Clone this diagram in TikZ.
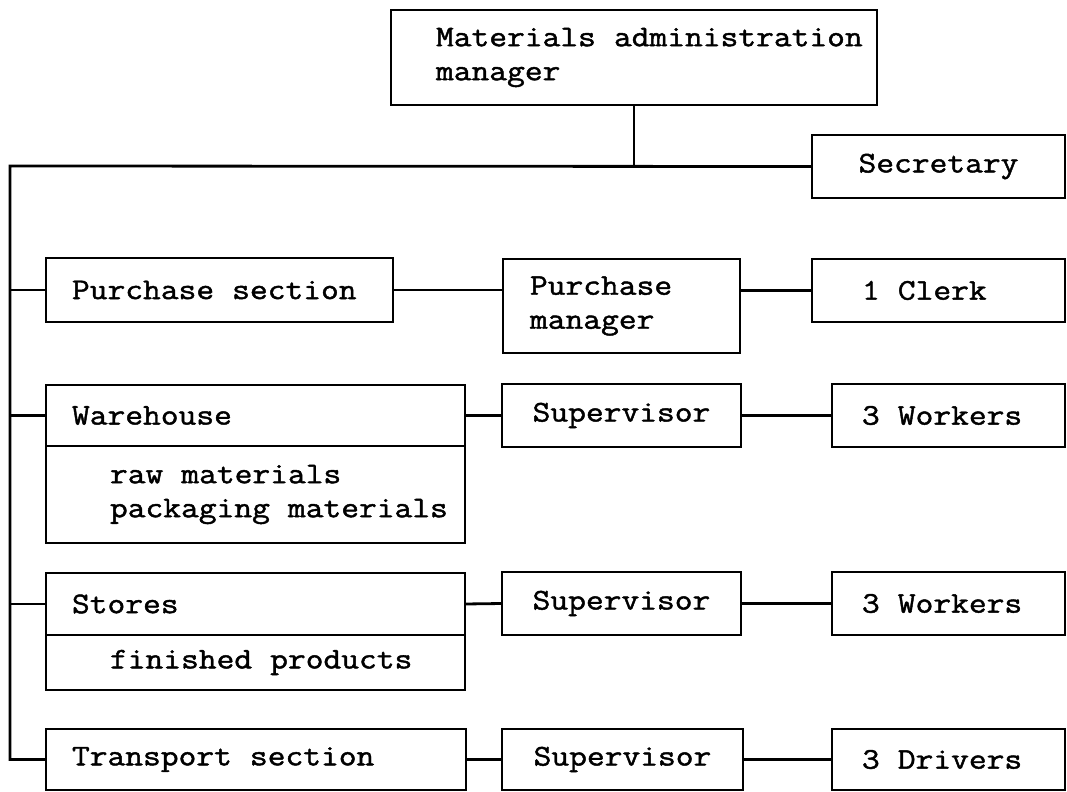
\documentclass[tikz,border=0pt]{standalone}
\usepackage{fontspec}
\newfontfamily\orgfont{Latin Modern Mono}[FakeStretch=1.15, FakeBold=1.5]
\usetikzlibrary{positioning}
\tikzset{
  orgbox/.style={draw, line width=1.4pt, rectangle, anchor=north west, inner sep=0pt, outer sep=0pt, align=left, font=\orgfont\fontsize{15}{17}\selectfont, execute at begin node={\spaceskip=9.05pt\relax}},
  orgpad/.style={execute at begin node={\leftskip=#1}},
  orgline/.style={line width=1.4pt}
}

\begin{document}
\begin{tikzpicture}[x=0.5pt, y=-0.5pt]
\useasboundingbox (0,0) rectangle (1067,792);
\node[orgbox, text width=243pt, minimum height=47.5pt, orgpad=22.5pt] (mgr) at (391,10) {Materials administration\\manager};
\node[orgbox, text width=126.5pt, minimum height=31.5pt, align=center] (secretary) at (812,135) {Secretary};
\node[orgbox, text width=173.5pt, minimum height=32pt, orgpad=13pt] (purchase) at (46,258) {Purchase section};
\node[orgbox, text width=118.5pt, minimum height=47pt, orgpad=13.5pt] (pmanager) at (503,259) {Purchase\\manager};
\node[orgbox, text width=126.5pt, minimum height=31.5pt, orgpad=25pt] (clerk) at (812,259) {1 Clerk};
\node[orgbox, text width=209.5pt, minimum height=30.5pt, orgpad=13pt] (warehouse) at (46,385) {Warehouse};
\node[orgbox, text width=209.5pt, minimum height=48.5pt, orgpad=32pt, below=0pt of warehouse] (whitems) {raw materials\\packaging materials};
\node[orgbox, text width=119.5pt, minimum height=31.5pt, align=center] (sup1) at (502,384) {Supervisor};
\node[orgbox, text width=116.5pt, minimum height=31.5pt, orgpad=15pt] (workers1) at (832,384) {3 Workers};
\node[orgbox, text width=209.5pt, minimum height=31pt, orgpad=13pt] (stores) at (46,573) {Stores};
\node[orgbox, text width=209.5pt, minimum height=27.5pt, orgpad=32pt, below=0pt of stores] (storesitems) {finished products};
\node[orgbox, text width=119.5pt, minimum height=31.5pt, align=center] (sup2) at (502,572) {Supervisor};
\node[orgbox, text width=116.5pt, minimum height=31.5pt, orgpad=15pt] (workers2) at (832,572) {3 Workers};
\node[orgbox, text width=210pt, minimum height=30.5pt, orgpad=13pt] (transport) at (46,729) {Transport section};
\node[orgbox, text width=120.5pt, minimum height=30.5pt, align=center] (sup3) at (502,729) {Supervisor};
\node[orgbox, text width=116.5pt, minimum height=30.5pt, orgpad=15pt] (drivers) at (832,729) {3 Drivers};
% trunk
\coordinate (trunk) at (10,166);
\draw[orgline] (mgr.south) -- (mgr.south |- trunk);
\draw[orgline] (secretary.west) -- (trunk) |- (transport.west);
\draw[orgline] (trunk |- purchase.west) -- (purchase.west);
\draw[orgline] (trunk |- warehouse.west) -- (warehouse.west);
\draw[orgline] (trunk |- stores.west) -- (stores.west);
% rows
\draw[orgline] (purchase.east) -- (purchase.east -| pmanager.west);
\draw[orgline] (clerk.west -| pmanager.east) -- (clerk.west);
\draw[orgline] (warehouse.east) -- (sup1.west);
\draw[orgline] (sup1.east) -- (workers1.west);
\draw[orgline] (stores.east) -- (sup2.west);
\draw[orgline] (sup2.east) -- (workers2.west);
\draw[orgline] (transport.east) -- (sup3.west);
\draw[orgline] (sup3.east) -- (drivers.west);
\end{tikzpicture}
\end{document}
